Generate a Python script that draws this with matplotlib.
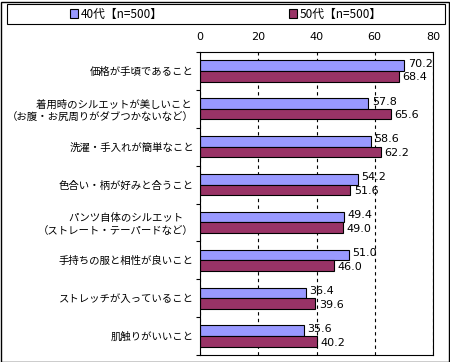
import numpy as np
import matplotlib.pyplot as plt
from matplotlib.patches import Rectangle

plt.rcParams['font.family'] = ['Noto Sans CJK JP', 'DejaVu Sans']

# Data (top to bottom)
categories = [
    '価格が手頃であること',
    '着用時のシルエットが美しいこと \n（お腹・お尻周りがダブつかないなど）',
    '洗濯・手入れが簡単なこと',
    '色合い・柄が好みと合うこと',
    'パンツ自体のシルエット\u3000\n（ストレート・テーパードなど）',
    '手持ちの服と相性が良いこと',
    'ストレッチが入っていること',
    '肌触りがいいこと',
]
val_40 = [70.2, 57.8, 58.6, 54.2, 49.4, 51.0, 36.4, 35.6]
val_50 = [68.4, 65.6, 62.2, 51.6, 49.0, 46.0, 39.6, 40.2]
series_names = ['40代【n=500】', '50代【n=500】']
colors = ['#9999FF', '#993366']

fig = plt.figure(figsize=(4.5, 3.62), dpi=100)
ax = fig.add_axes([200/450, 1 - 355/362, 233/450, 303/362])

y = np.arange(len(categories))
h = 0.28
b1 = ax.barh(y - h/2, val_40, height=h, color=colors[0], edgecolor='black', linewidth=0.8)
b2 = ax.barh(y + h/2, val_50, height=h, color=colors[1], edgecolor='black', linewidth=0.8)

# value labels (blue nudged up, red nudged down a little)
for bars, vals, dy in ((b1, val_40, -0.05), (b2, val_50, 0.03)):
    for rect, v in zip(bars, vals):
        ax.text(rect.get_width() + 1.2, rect.get_y() + rect.get_height()/2 + dy, f'{v:.1f}',
                va='center', ha='left', fontsize=8, family='DejaVu Sans')

ax.set_xlim(0, 80)
ax.set_ylim(len(categories) - 0.5, -0.5)
ax.set_xticks([0, 20, 40, 60, 80])
ax.xaxis.tick_top()
ax.tick_params(axis='x', length=0, pad=7, labelsize=8)
for lbl in ax.get_xticklabels():
    lbl.set_family('DejaVu Sans')
ax.set_yticks(y)
ax.set_yticklabels(categories, fontsize=7.5, linespacing=1.3)
ax.set_yticks(np.arange(len(categories) + 1) - 0.5, minor=True)
ax.tick_params(axis='y', which='major', length=0, pad=4.5)
ax.tick_params(axis='y', which='minor', length=3, width=0.8, direction='out')
ax.grid(axis='x', color='black', linestyle=(0, (3, 3)), linewidth=0.8)
ax.set_axisbelow(True)
for s in ax.spines.values():
    s.set_linewidth(0.8)

# legend frame spanning the top
fig.patches.append(Rectangle((7/450, 1 - 24/362), 438/450, 20/362, transform=fig.transFigure,
                             fill=False, edgecolor='black', linewidth=0.8))
for bar, name, cx in ((b1, series_names[0], 116), (b2, series_names[1], 335)):
    fig.legend([bar], [name], loc='center', bbox_to_anchor=(cx/450, 1 - 14/362),
               frameon=False, fontsize=8.5, handlelength=0.7, handleheight=0.7,
               handletextpad=0.2, borderpad=0)

# outer border
fig.patches.append(Rectangle((0.5/450, 0.5/362), 448/450, 360/362, transform=fig.transFigure,
                             fill=False, edgecolor='black', linewidth=1))

fig.savefig('out.png', dpi=100)
